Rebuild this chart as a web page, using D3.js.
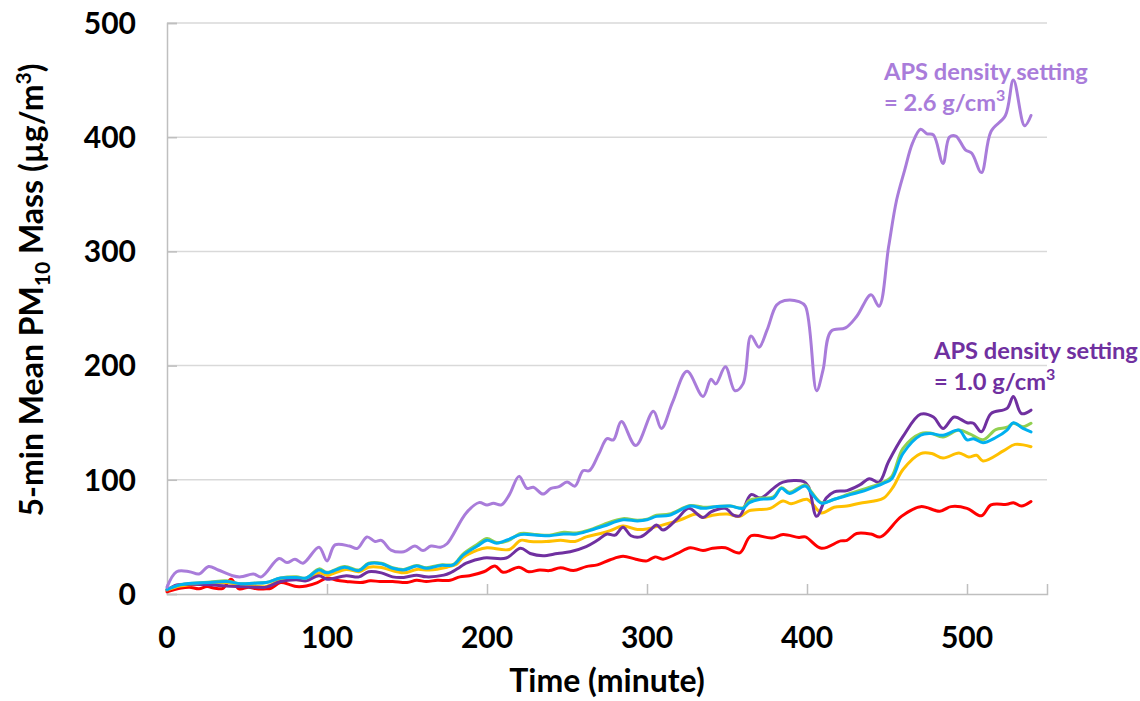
<!DOCTYPE html>
<html>
<head>
<meta charset="utf-8">
<script src="https://cdn.jsdelivr.net/npm/d3@7"></script>
<style>
  html, body { margin: 0; padding: 0; background: #fff; }
  svg { display: block; font-family: Lato, "Open Sans", sans-serif; }
</style>
</head>
<body>
<svg id="chart" width="1140" height="701"></svg>
<script>
// ---- Data ----
const xTicks = [0, 100, 200, 300, 400, 500];
const yTicks = [0, 100, 200, 300, 400, 500];

// APS density setting = 2.6 g/cm3 (lavender)
const timeLav = [0,6,14,20,26,32,41,46,54,59,70,75,80,85,95,100,105,114,119,125,130,134,140,148,155,160,165,171,175,187,195,200,204,209,214,220,225,229,235,240,245,250,255,260,264,270,275,279,284,293,304,309,316,325,335,340,343,349,355,360,365,370,375,381,386,395,399,406,410,415,424,431,440,445,451,456,461,466,471,475,479,485,489,493,499,503,509,515,524,529,536,540];
const pmLav   = [6,19.5,19.5,17.5,24,21,16,15,17.5,15,31,27.5,30.5,27,41,29,43,42,40,50,46,47,38.5,37,42,38,42,41,44,71,80,78,79.5,78,87,103,92.5,93.5,87.5,92.5,94,98,94.5,108,108,123,136,135,151,130,160,145,168,195,173,188,184,199,178,184,226,216,231,253,257,256,252,178,196,230,233,243,262,252,304,345,371,395,407,403,402,377,400,401,389,386,369,405,419,450,410,419];

// APS density setting = 1.0 g/cm3 (dark purple)
const timePur = [0,6,16,27,37,46,56,62,71,81,87,95,100,112,120,126,134,141,148,156,162,173,177,183,187,198,212,221,227,235,244,252,262,269,275,280,285,290,296,302,306,310,319,326,335,340,349,354,358,365,371,379,385,398,401,406,412,417,425,433,439,445,451,460,471,479,485,492,500,504,509,515,525,529,534,540];
const pmPur   = [3.5,8,8.5,8,7,6.5,6,6,11,12.5,11.5,16,13,16,15,19.5,18.5,15,14.5,16.5,15,16.5,18.5,23.5,27,31.5,31.5,40,35.5,33.5,35.5,37,41.5,47,52.5,51.5,58.5,51,50,56,60.5,56,66,75,67,72,75,69,68.5,87,84,92.5,98,98.5,94,68,84,89.5,90.5,95.5,101,98,116,138,157.5,155,145,155,150,149.5,142,158,162.5,173,158,161];

// green
const timeGrn = [0,8,16,27,37,46,54,62,71,81,87,95,100,111,120,126,134,141,148,156,162,171,179,185,194,200,206,213,221,231,239,248,256,264,273,285,294,300,306,314,327,335,343,352,360,364,371,379,384,389,399,403,409,417,427,437,448,453,460,471,477,485,495,502,510,518,525,529,535,540];
const pmGrn   = [4,8,9.5,10.5,11.5,9,9.5,10,14,15,14,22,19,24,21,27,27,23,21.5,25,23,25.5,26,35,43.5,48.5,45,46.5,53,52,51.5,54,53.5,56,61,66,64.5,65.5,69,70,77.5,76,76.5,77,75.5,82,84,85,93,89,95.5,89,80,83,88,92.5,98,103,127.5,140.5,141,137.5,143.5,140,135,144,146,149.5,146.5,149.5];

// cyan
const timeCyn = [0,8,16,27,37,46,54,62,71,81,87,95,100,111,120,126,134,141,148,156,162,171,179,185,194,200,206,213,221,231,239,248,256,264,273,285,294,300,306,314,327,335,343,352,360,364,371,379,384,389,399,403,409,417,427,437,448,453,460,471,477,485,495,500,504,510,518,525,529,535,540];
const pmCyn   = [4,8,9.5,10,11,9,9.5,10,14,14.5,14,21,18.5,23.5,20.5,26.5,26.5,22.5,21,24.5,22.5,25,25.5,34,42,47,44.5,47.5,52,51.5,51,52.5,52.5,55.5,59.5,65,64,65,68,69,77,75,76.5,77,75,80,83,84,92.5,88,94.5,88,79.5,83,87,91,97,101,123,139,140.5,139,143.5,135,136,132.5,137,143.5,150,145,142];

// gold / yellow
const timeYel = [0,8,18,27,37,46,54,62,71,79,87,95,100,112,120,126,133,148,156,164,175,181,185,194,200,214,221,227,237,246,255,262,271,277,285,294,300,310,321,331,335,341,350,358,364,377,385,390,400,404,409,417,425,433,442,448,454,460,471,478,485,495,501,506,510,523,530,540];
const pmYel   = [3.5,7,8.5,9.5,10,8,7,6.5,12,13,12,18.5,16.5,21.5,19.5,23.5,23.5,18.5,21.5,21,23.5,26,32,38.5,40.5,39,47,46,46,47,46,50,53,55.5,59.5,56.5,57,60.5,65,70,67,69,70,68,73,75,81.5,79,83,78,71,76,77,79.5,81.5,84,94,109,123,123,119,123.5,120,121.5,116.5,125.5,131,129];

// red
const timeRed = [0,8,14,20,25,30,35,40,45,51,56,62,65,71,77,81,87,94,100,106,112,121,127,133,141,150,156,162,169,177,183,189,198,205,210,220,226,233,239,246,254,262,269,277,285,293,300,305,310,319,327,335,341,349,358,365,378,385,395,399,409,421,425,431,440,446,459,471,483,490,500,509,515,525,529,534,540];
const pmRed   = [2,5,6,4.5,6.5,5,5,13,4.5,6,4.5,4.5,5,10,8,6.5,7,10,14,12,11,10,11.5,11,11,10,12,11,12,12,15,16,19.5,24.5,19,23.5,19.5,21,20.5,23,20.5,24,25.5,30,33,30.5,29,32.5,30.5,35.5,40.5,38,40,40.5,36,51,49,52,49.5,50,40,46.5,47,53,52.5,50,68,76.5,72.5,76.5,75,68.5,78,78.5,80,77,81];

const seriesOrder = [
  { t: timeRed, v: pmRed, color: "#FF0000" },
  { t: timeYel, v: pmYel, color: "#FFC000" },
  { t: timePur, v: pmPur, color: "#7030A0" },
  { t: timeGrn, v: pmGrn, color: "#92D050" },
  { t: timeCyn, v: pmCyn, color: "#00B0F0" },
  { t: timeLav, v: pmLav, color: "#A97CDA" }
];

// ---- Layout ----
const plot = { left: 167, top: 23, width: 880, height: 571 };
const svg = d3.select("#chart");

const x = d3.scaleLinear().domain([0, 550]).range([plot.left, plot.left + plot.width]);
const y = d3.scaleLinear().domain([0, 500]).range([plot.top + plot.height, plot.top]);

// gridlines
svg.append("g").selectAll("line").data(yTicks.filter(d => d > 0)).join("line")
  .attr("x1", x(0)).attr("x2", x(550))
  .attr("y1", d => y(d)).attr("y2", d => y(d))
  .attr("stroke", "#d9d9d9").attr("stroke-width", 1.5);

// y axis
const yAxis = svg.append("g").attr("transform", `translate(${x(0)},0)`)
  .call(d3.axisRight(y).tickValues(yTicks).tickSize(10).tickFormat(""));
yAxis.select(".domain").attr("stroke", "#bfbfbf").attr("stroke-width", 1.5);
yAxis.selectAll(".tick line").attr("stroke", "#bfbfbf").attr("stroke-width", 1.5);

// x axis
const xAxis = svg.append("g").attr("transform", `translate(0,${y(0)})`)
  .call(d3.axisTop(x).tickValues(xTicks).tickSize(10).tickFormat(""));
xAxis.select(".domain").attr("stroke", "#bfbfbf").attr("stroke-width", 1.5);
xAxis.selectAll(".tick line").attr("stroke", "#bfbfbf").attr("stroke-width", 1.5);

// tick labels
svg.append("g").selectAll("text").data(yTicks).join("text")
  .attr("x", 136).attr("y", d => y(d)).attr("dy", "0.36em")
  .attr("text-anchor", "end").attr("font-size", 30).attr("font-weight", 700)
  .attr("fill", "#000").text(d => d);

svg.append("g").selectAll("text").data(xTicks).join("text")
  .attr("x", d => x(d)).attr("y", 648)
  .attr("text-anchor", "middle").attr("font-size", 30).attr("font-weight", 700)
  .attr("fill", "#000").text(d => d);

// axis titles
svg.append("text").attr("x", 607).attr("y", 692)
  .attr("text-anchor", "middle").attr("font-size", 32).attr("font-weight", 700)
  .text("Time (minute)");

const yt = svg.append("text").attr("transform", "translate(43,290) rotate(-90)")
  .attr("text-anchor", "middle").attr("font-size", 32).attr("font-weight", 700);
yt.append("tspan").text("5-min Mean PM");
yt.append("tspan").attr("font-size", 21).attr("dy", 7).text("10");
yt.append("tspan").attr("dy", -7).text(" Mass (µg/m");
yt.append("tspan").attr("font-size", 21).attr("dy", -12).text("3");
yt.append("tspan").attr("dy", 12).text(")");

// lines
const line = d3.line().curve(d3.curveCatmullRom.alpha(0.5));
svg.append("g").selectAll("path").data(seriesOrder).join("path")
  .attr("d", s => line(s.t.map((t, i) => [x(t), y(s.v[i])])))
  .attr("fill", "none").attr("stroke", s => s.color)
  .attr("stroke-width", 3).attr("stroke-linejoin", "round").attr("stroke-linecap", "round");

// annotations
function annotate(x0, y0, color, val) {
  const g = svg.append("g").attr("fill", color).attr("font-size", 23.7).attr("font-weight", 700);
  g.append("text").attr("x", x0).attr("y", y0).text("APS density setting");
  const t2 = g.append("text").attr("x", x0).attr("y", y0 + 31);
  t2.append("tspan").text("= " + val + " g/cm");
  t2.append("tspan").attr("font-size", 16).attr("dy", -10).text("3");
}
annotate(884, 80, "#A97CDA", "2.6");
annotate(934, 359, "#7030A0", "1.0");
</script>
</body>
</html>
